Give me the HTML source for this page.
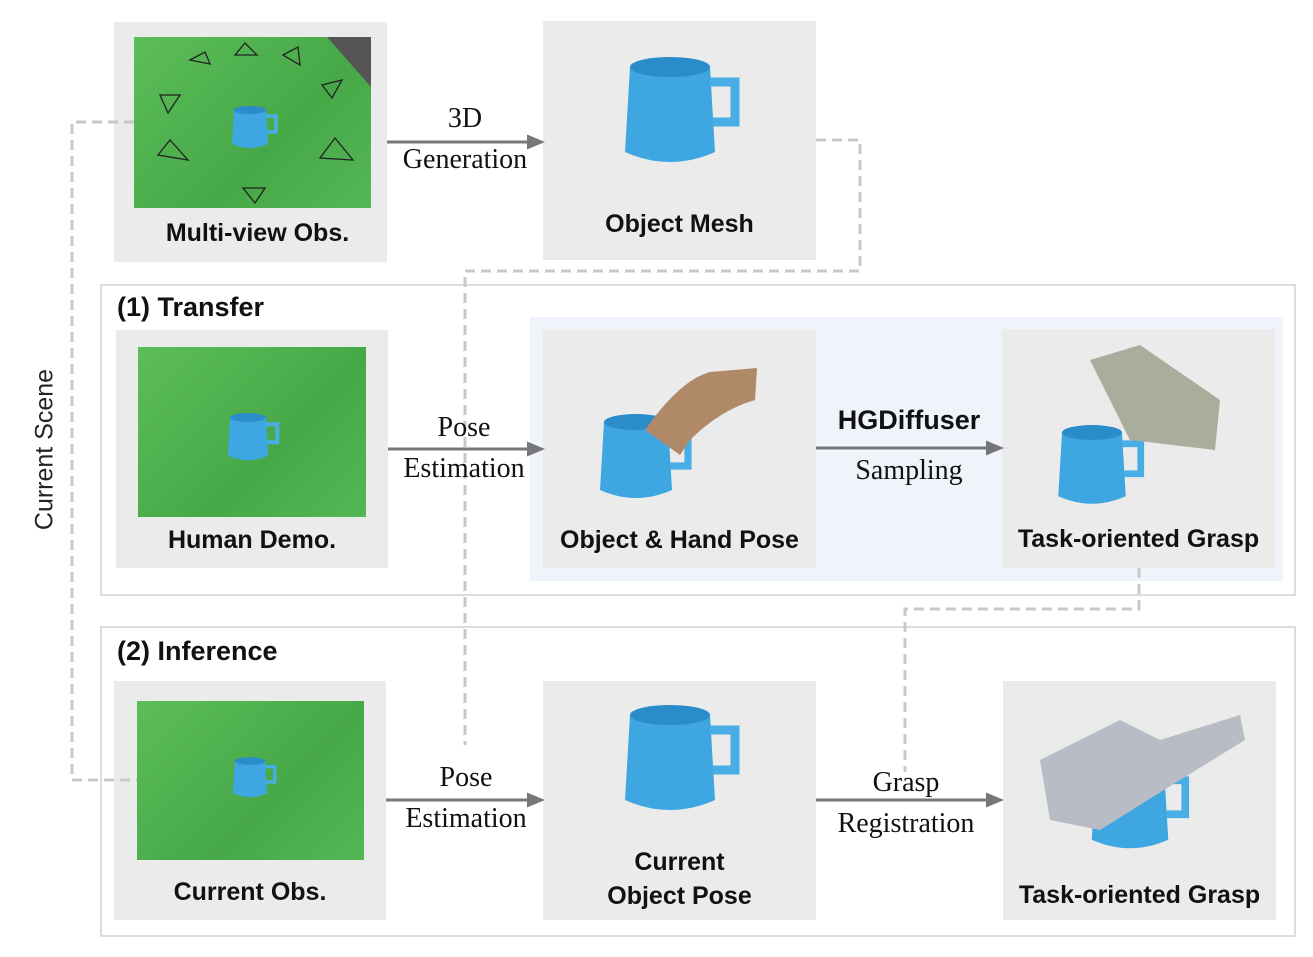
<!DOCTYPE html>
<html><head><meta charset="utf-8"><style>
body{margin:0;width:1313px;height:957px;background:#fff;position:relative;overflow:hidden;font-family:"Liberation Sans",sans-serif}
.a{position:absolute}
.box{position:absolute;background:#ebebeb}
.lbl{position:absolute;font-weight:bold;font-size:25px;color:#111;text-align:center;white-space:nowrap}
.serif{position:absolute;font-family:"Liberation Serif",serif;font-size:28px;color:#111;text-align:center;white-space:nowrap}
.frame{position:absolute;border:2px solid #dcdcdc}
.green{position:absolute;background:linear-gradient(135deg,#5cbd5a,#47a847 60%,#55b655)}
</style></head><body>
<div class="frame" style="left:100px;top:284px;width:1192px;height:308px"></div>
<div class="frame" style="left:100px;top:626px;width:1192px;height:307px"></div>
<div class="a" style="left:530px;top:317px;width:753px;height:264px;background:#eef4fa"></div>

<div class="box" style="left:114px;top:22px;width:273px;height:240px"></div>
<div class="green" style="left:134px;top:37px;width:237px;height:171px"></div>
<div class="a" style="left:316px;top:37px;width:55px;height:50px;background:#555;clip-path:polygon(20% 0,100% 0,100% 100%)"></div>
<div class="box" style="left:543px;top:21px;width:273px;height:239px"></div>
<div class="box" style="left:116px;top:330px;width:272px;height:238px"></div>
<div class="green" style="left:138px;top:347px;width:228px;height:170px"></div>
<div class="box" style="left:543px;top:330px;width:273px;height:238px"></div>
<div class="box" style="left:1002px;top:329px;width:273px;height:239px"></div>
<div class="box" style="left:114px;top:681px;width:272px;height:239px"></div>
<div class="green" style="left:137px;top:701px;width:227px;height:159px"></div>
<div class="box" style="left:543px;top:681px;width:273px;height:239px"></div>
<div class="box" style="left:1003px;top:681px;width:273px;height:239px"></div>

<svg class="a" style="left:0;top:0" width="1313" height="957">
<defs><marker id="ar" markerWidth="6" markerHeight="6" refX="5" refY="3" orient="auto"><path d="M0,0.5 L6,3 L0,5.5z" fill="#777"/></marker>
<g id="mug"><path d="M-40,-50 Q0,-62 40,-50 L45,35 Q0,55 -45,35 Z" fill="#3ea6e0"/><ellipse cx="0" cy="-50" rx="40" ry="10" fill="#2a8cc8"/><path d="M40,-35 h25 v40 h-22" fill="none" stroke="#4aaee6" stroke-width="9"/></g></defs>
<g fill="none" stroke="#c8c8c8" stroke-width="3" stroke-dasharray="10,6">
<path d="M134,122 H72 V780 H137"/>
<path d="M816,140 H860 V271 H465 V745"/>
<path d="M1139,568 V609 H905 V772"/>
</g>
<g stroke="#777" stroke-width="3" marker-end="url(#ar)">
<line x1="387" y1="142" x2="542" y2="142"/>
<line x1="388" y1="449" x2="542" y2="449"/>
<line x1="816" y1="448" x2="1001" y2="448"/>
<line x1="386" y1="800" x2="542" y2="800"/>
<line x1="816" y1="800" x2="1001" y2="800"/>
</g>
<use href="#mug" transform="translate(670,117)"/>
<use href="#mug" transform="translate(670,765)"/>
<use href="#mug" transform="translate(250,130) scale(0.4)"/>
<use href="#mug" transform="translate(248,440) scale(0.45)"/>
<use href="#mug" transform="translate(250,780) scale(0.38)"/>
<use href="#mug" transform="translate(636,462) scale(0.8)"/>
<use href="#mug" transform="translate(1092,470) scale(0.75)"/>
<use href="#mug" transform="translate(1130,810) scale(0.85)"/>
<path d="M645,430 Q680,380 710,372 L757,368 L755,400 Q720,410 690,440 L680,455 Z" fill="#b08a68"/>
<path d="M1090,360 L1140,345 L1220,400 L1215,450 L1130,440 Z" fill="#a8ad9c"/>
<path d="M1040,760 L1120,720 L1160,740 L1240,715 L1245,740 L1180,780 L1100,830 L1050,820 Z" fill="#b8bcc4"/>
<g fill="none" stroke="#222" stroke-width="1.3">
<path d="M190,60 l15,-8 l5,12 z"/><path d="M235,55 l10,-12 l12,12 z"/><path d="M283,55 l15,-8 l2,18 z"/><path d="M160,95 l20,0 l-12,18 z"/><path d="M322,85 l20,-5 l-10,18 z"/><path d="M158,155 l12,-15 l18,20 z"/><path d="M320,158 l15,-20 l18,22 z"/><path d="M243,188 l22,0 l-10,15 z"/>
</g>
</svg>

<div class="lbl" style="left:114px;top:219px;width:287px">Multi-view Obs.</div>
<div class="lbl" style="left:543px;top:210px;width:273px">Object Mesh</div>
<div class="lbl" style="left:116px;top:526px;width:272px">Human Demo.</div>
<div class="lbl" style="left:543px;top:526px;width:273px">Object &amp; Hand Pose</div>
<div class="lbl" style="left:1002px;top:525px;width:273px">Task-oriented Grasp</div>
<div class="lbl" style="left:114px;top:878px;width:272px">Current Obs.</div>
<div class="lbl" style="left:543px;top:845px;width:273px;line-height:34px">Current<br>Object Pose</div>
<div class="lbl" style="left:1003px;top:881px;width:273px">Task-oriented Grasp</div>
<div class="lbl" style="left:117px;top:292px;font-size:27px">(1) Transfer</div>
<div class="lbl" style="left:117px;top:636px;font-size:27px">(2) Inference</div>
<div class="lbl" style="left:816px;top:405px;width:186px;font-size:27px">HGDiffuser</div>
<div class="serif" style="left:387px;top:98px;width:156px;line-height:41px">3D<br>Generation</div>
<div class="serif" style="left:388px;top:407px;width:152px;line-height:41px">Pose<br>Estimation</div>
<div class="serif" style="left:816px;top:455px;width:186px">Sampling</div>
<div class="serif" style="left:388px;top:757px;width:156px;line-height:41px">Pose<br>Estimation</div>
<div class="serif" style="left:816px;top:762px;width:180px;line-height:41px">Grasp<br>Registration</div>
<div class="a" style="left:-55px;top:435px;width:200px;text-align:center;font-size:25px;color:#222;transform:rotate(-90deg)">Current Scene</div>
</body></html>
